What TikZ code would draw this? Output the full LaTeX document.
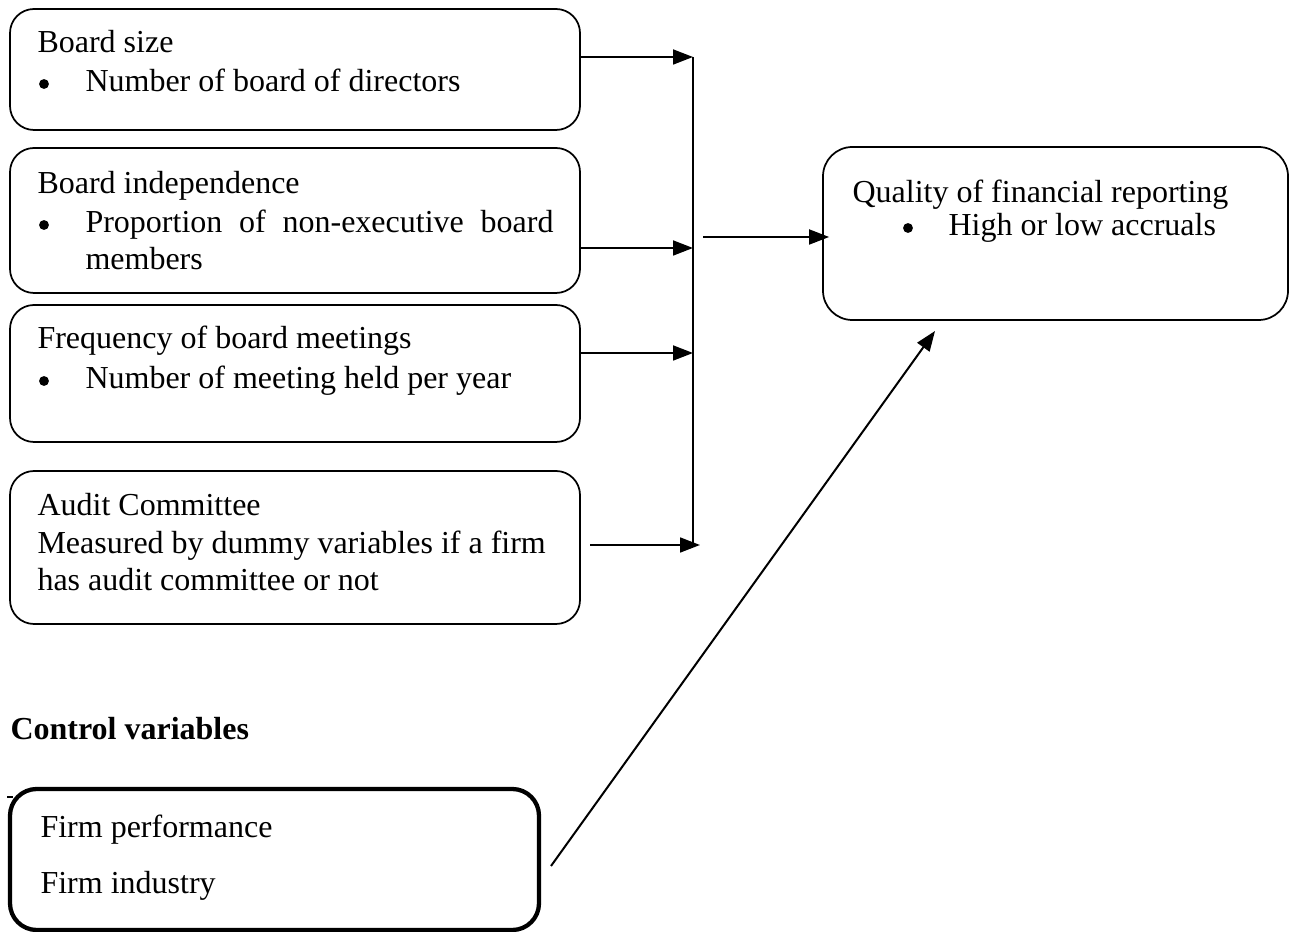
\documentclass[tikz,border=0pt]{standalone}
\usepackage{fontspec}
\setmainfont{Liberation Serif}
\usetikzlibrary{arrows.meta,fit}
\begin{document}
\begin{tikzpicture}[x=0.375pt,y=-0.375pt,
  box/.style={draw,line width=0.65pt,rounded corners=9pt,inner sep=0pt},
  qbox/.style={draw,line width=0.65pt,rounded corners=11pt,inner sep=0pt},
  cbox/.style={draw,line width=1.6pt,rounded corners=10pt,inner sep=0pt},
  txt/.style={anchor=base west,inner sep=0pt,font=\fontsize{12}{13.9}\selectfont},
  bul/.style={circle,fill=black,inner sep=0pt,minimum size=3.7pt},
  conn/.style={line width=0.75pt},
  arr/.style={line width=0.75pt,-{Triangle[length=7.5pt,width=5.6pt]}}]
\useasboundingbox (0,0) rectangle (1292,932);
% boxes
\node[box,fit={(10,9)(580,130)}] (b1) {};
\node[box,fit={(10,148)(580,293)}] (b2) {};
\node[box,fit={(10,305)(580,442)}] (b3) {};
\node[box,fit={(10,471)(580,624)}] (b4) {};
\node[qbox,fit={(823,147)(1288,320)}] (q) {};
\node[cbox,fit={(10,789)(539,930)}] (c) {};
% texts
\node[txt] (t1a) at (37,53) {Board size};
\node[bul] (d1) at (44,84) {};
\node[txt] (t1b) at (85,92) {Number of board of directors};
\node[txt] (t2a) at (37,194) {Board independence};
\node[bul] (d2) at (44,225) {};
\node[txt] (t2b) at (85,233) {\hbox to 175.5pt{Proportion\hfill of\hfill non-executive\hfill board}};
\node[txt] (t2c) at (85,270) {members};
\node[txt] (t3a) at (37,349) {Frequency of board meetings};
\node[bul] (d3) at (44,381) {};
\node[txt] (t3b) at (85,389) {Number of meeting held per year};
\node[txt] (t4a) at (37,516) {Audit Committee};
\node[txt] (t4b) at (37,554) {Measured by dummy variables if a firm};
\node[txt] (t4c) at (37,591) {has audit committee or not};
\node[txt] (tqa) at (852,203) {Quality of financial reporting};
\node[bul] (dq) at (908,228) {};
\node[txt] (tqb) at (948,236) {High or low accruals};
\node[txt,font=\fontsize{12}{13.9}\selectfont\bfseries] (tc) at (10,740) {Control variables};
\node[txt] (tca) at (40,838) {Firm performance};
\node[txt] (tcb) at (40,893) {Firm industry};
% connectors
\coordinate (j1) at (693,57);
\coordinate (j2) at (693,248);
\coordinate (j3) at (693,353);
\coordinate (j4) at (700,545);
\coordinate (jb) at (693,545);
\coordinate (m0) at (703,237);
\coordinate (s4) at (590,545);
\coordinate (d0) at (551,866);
\coordinate (dq2) at (935,331);
\draw[arr] (b1.east |- j1) -- (j1);
\draw[arr] (b2.east |- j2) -- (j2);
\draw[arr] (b3.east |- j3) -- (j3);
\draw[arr] (s4) -- (j4);
\draw[conn] (j1) -- (jb);
\draw[arr] (m0) -- (q.west |- m0) -- ++(7,0);
\draw[arr] (d0) -- (dq2);
\draw[line width=0.5pt] (7,797) -- (13,797);
\end{tikzpicture}
\end{document}
